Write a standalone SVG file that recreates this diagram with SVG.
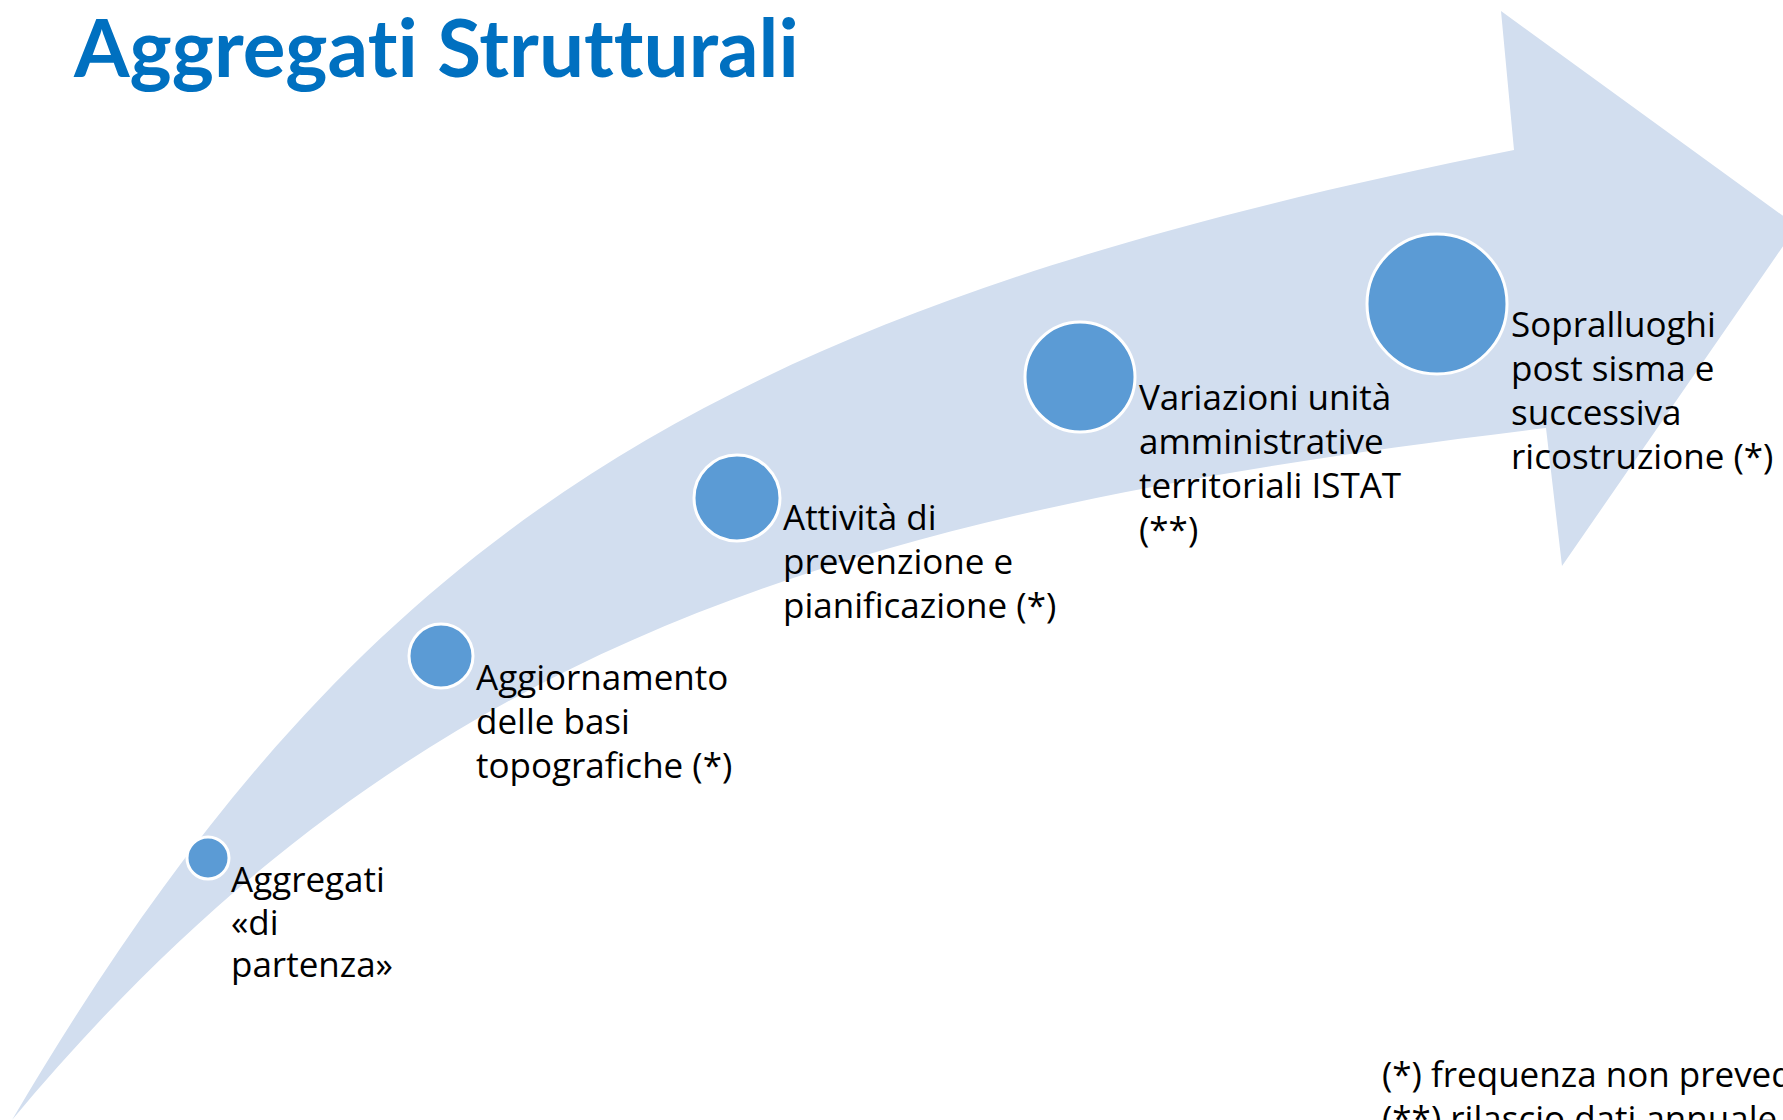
<svg xmlns="http://www.w3.org/2000/svg" width="1783" height="1120" viewBox="0 0 1783 1120">
<style>
.title{font-family:Lato,"Open Sans","Liberation Sans",sans-serif;font-weight:bold;font-size:80px;fill:#0070C0;font-variant-ligatures:none}
.lbl{font-family:"Open Sans","Noto Sans","Liberation Sans",sans-serif;font-size:35px;fill:#000}
.dot{fill:#5B9BD5;stroke:#FFFFFF;stroke-width:3}
.band{fill:#D2DEEF}
</style>
<rect width="1783" height="1120" fill="#FFFFFF"/>
<text class="title" x="74" y="77">Aggregati Strutturali</text>
<g id="connectors">
<path class="band" d="M12,1120 C362,525 714,310 1514,150 L1501,11 L1797,226 L1562,566 L1546,428 C846,512 412,640 12,1120 Z"/>
</g>
<g id="node1">
<circle class="dot" cx="208" cy="858" r="21"/>
<text class="lbl"><tspan x="231" y="892">Aggregati</tspan><tspan x="231" y="935">«di</tspan><tspan x="231" y="977">partenza»</tspan></text>
</g>
<g id="node2">
<circle class="dot" cx="441" cy="656" r="32"/>
<text class="lbl"><tspan x="476" y="690">Aggiornamento</tspan><tspan x="476" y="734">delle basi</tspan><tspan x="476" y="778">topografiche (*)</tspan></text>
</g>
<g id="node3">
<circle class="dot" cx="737" cy="498" r="43"/>
<text class="lbl"><tspan x="783" y="530">Attività di</tspan><tspan x="783" y="574">prevenzione e</tspan><tspan x="783" y="618">pianificazione (*)</tspan></text>
</g>
<g id="node4">
<circle class="dot" cx="1080" cy="377" r="55"/>
<text class="lbl"><tspan x="1139" y="410">Variazioni unità</tspan><tspan x="1139" y="454">amministrative</tspan><tspan x="1139" y="498">territoriali ISTAT</tspan><tspan x="1139" y="542">(**)</tspan></text>
</g>
<g id="node5">
<circle class="dot" cx="1437" cy="304" r="70"/>
<text class="lbl"><tspan x="1511" y="337">Sopralluoghi</tspan><tspan x="1511" y="381">post sisma e</tspan><tspan x="1511" y="425">successiva</tspan><tspan x="1511" y="469">ricostruzione (*)</tspan></text>
</g>
<g id="footnote">
<text class="lbl"><tspan x="1382" y="1087">(*) frequenza non prevedibile</tspan><tspan x="1382" y="1131">(**) rilascio dati annuale</tspan></text>
</g>
</svg>
